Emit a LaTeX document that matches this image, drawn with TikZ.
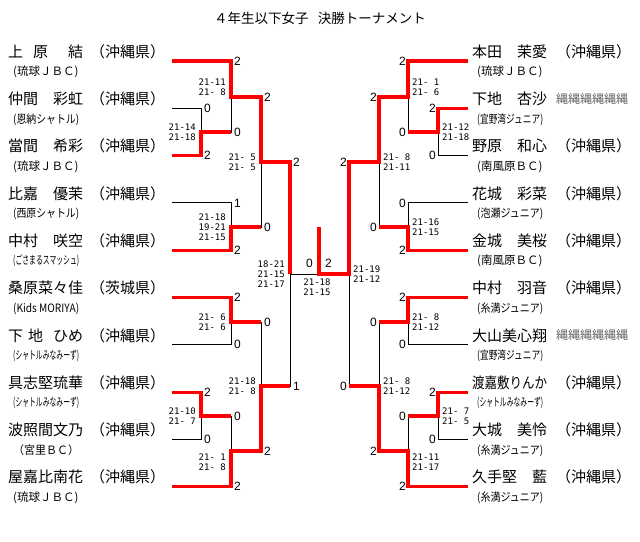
\documentclass[tikz,border=0pt]{standalone}
\usepackage{fontspec}
\usepackage{graphicx}
\setmainfont{Noto Sans CJK JP}
\newfontfamily\scorefont{DejaVu Sans Mono}
\newfontfamily\digitfont{Liberation Sans}
\usetikzlibrary{positioning}

\newsavebox\fitbox
\newcommand\fitname[1]{\sbox\fitbox{#1}\ifdim\wd\fitbox>75pt \resizebox{75pt}{\ht\fitbox}{\usebox\fitbox}\else\makebox[75pt][s]{#1}\fi}
\newcommand\fitclub[1]{\sbox\fitbox{#1}\ifdim\wd\fitbox>66pt \resizebox{66pt}{\ht\fitbox}{\usebox\fitbox}\else\usebox\fitbox\fi}
\newcommand\smudge{{\color{black!60}\fontsize{12}{14}\selectfont 縄縄縄縄縄縄}}

\tikzset{
	win/.style={red, line width=3.2pt},
	lose/.style={black, line width=1pt},
	player/.style={anchor=west, inner sep=0pt, font=\fontsize{15}{18}\selectfont},
	club/.style={anchor=west, inner sep=0pt, font=\fontsize{11.5}{13}\selectfont},
	games/.style={inner sep=1pt, align=center, font=\scorefont\fontsize{9}{10}\selectfont},
	pts/.style={inner sep=1pt, font=\digitfont\fontsize{12}{14}\selectfont},
}

\begin{document}
\begin{tikzpicture}[x=1pt, y=-1pt]
		\useasboundingbox (0,0) rectangle (640,541);
		\node[font=\fontsize{13.5}{16}\selectfont] (title) at (320,18) {４年生以下女子\hspace{0.7em}決勝トーナメント};

		\foreach \i/\pn/\pc/\pp in {1/上\hfil 原\hfil\hfil 結/(琉球ＪＢＣ)/（沖縄県）,
				2/仲間\hfil 彩虹/(恩納シャトル)/（沖縄県）,
				3/當間\hfil 希彩/(琉球ＪＢＣ)/（沖縄県）,
				4/比嘉\hfil 優茉/(西原シャトル)/（沖縄県）,
				5/中村\hfil 咲空/(ごさまるスマッシュ)/（沖縄県）,
				6/桑原\hfil 菜々佳/(Kids MORIYA)/（茨城県）,
				7/下\hfil 地\hfil\hfil ひめ/(シャトルみなみーず)/（沖縄県）,
				8/具志堅\hfil 琉華/(シャトルみなみーず)/（沖縄県）,
				9/波照間\hfil 文乃/（宮里ＢＣ）/（沖縄県）,
				10/屋嘉比\hfil 南花/(琉球ＪＢＣ)/（沖縄県）} {
			\coordinate (lp\i) at (172, {61+47.3*(\i-1)});
			\node[player] (ln\i) at (8, {51.5+47.3*(\i-1)}) {\fitname{\pn}};
			\node[player] (lf\i) at (90, {51.5+47.3*(\i-1)}) {\pp};
			\node[club] (lc\i) at (13, {72+47.3*(\i-1)}) {\fitclub{\pc}};
		}
		\foreach \i/\pn/\pc/\pp in {1/本田\hfil 茉愛/(琉球ＪＢＣ)/（沖縄県）,
				2/下地\hfil 杏沙/(宜野湾ジュニア)/\smudge,
				3/野原\hfil 和心/(南風原ＢＣ)/（沖縄県）,
				4/花城\hfil 彩菜/(泡瀬ジュニア)/（沖縄県）,
				5/金城\hfil 美桜/(南風原ＢＣ)/（沖縄県）,
				6/中村\hfil 羽音/(糸満ジュニア)/（沖縄県）,
				7/大山\hfil 美心翔/(宜野湾ジュニア)/\smudge,
				8/渡嘉敷\hfil りんか/(シャトルみなみーず)/（沖縄県）,
				9/大城\hfil 美怜/(糸満ジュニア)/（沖縄県）,
				10/久手堅\hfil 藍/(糸満ジュニア)/（沖縄県）} {
			\coordinate (rp\i) at (468, {61+47.3*(\i-1)});
			\node[player] (rn\i) at (472, {51.5+47.3*(\i-1)}) {\fitname{\pn}};
			\node[player] (rf\i) at (556, {51.5+47.3*(\i-1)}) {\pp};
			\node[club] (rc\i) at (477, {72+47.3*(\i-1)}) {\fitclub{\pc}};
		}

		\coordinate (lA) at (201,132);
		\coordinate (lB) at (231,97);
		\coordinate (lC) at (231,227);
		\coordinate (lD) at (261,162);
		\coordinate (lE) at (231,322);
		\coordinate (lF) at (201,416);
		\coordinate (lG) at (231,451);
		\coordinate (lH) at (261,386);
		\coordinate (lS) at (290,274);
		\coordinate (fin) at (319,274);
		\coordinate (champ) at (319,227);
		\coordinate (rS) at (349,274);
		\coordinate (rA) at (438,132);
		\coordinate (rB) at (408,97);
		\coordinate (rC) at (408,227);
		\coordinate (rD) at (379,162);
		\coordinate (rE) at (408,322);
		\coordinate (rF) at (438,416);
		\coordinate (rG) at (408,451);
		\coordinate (rH) at (379,386);

		\foreach \a/\b in {lp2/lA, lp3/lA, lp1/lB, lA/lB, lp4/lC, lp5/lC, lB/lD, lC/lD,
				lp6/lE, lp7/lE, lp8/lF, lp9/lF, lF/lG, lp10/lG, lE/lH, lG/lH, lD/lS, lH/lS,
				lS/fin, rS/fin,
				rp2/rA, rp3/rA, rp1/rB, rA/rB, rp4/rC, rp5/rC, rB/rD, rC/rD,
				rp6/rE, rp7/rE, rp8/rF, rp9/rF, rF/rG, rp10/rG, rE/rH, rG/rH, rD/rS, rH/rS}
			\draw[lose] (\a) -| (\b);

		\draw[win] (lp1) -| (lB) -| (lD) -| (lS);
		\draw[win] (lp3) -| (lA) -- (lA -| lB);
		\draw[win] (lp5) -| (lC) -- (lC -| lD);
		\draw[win] (lp6) -| (lE) -- (lE -| lH);
		\draw[win] (lp8) -| (lF) -- (lF -| lG);
		\draw[win] (lp10) -| (lG) -| (lH) -- (lH -| lS);
		\draw[win] (rp1) -| (rB) -| (rD) -| (rS) -- (fin) -- (champ);
		\draw[win] (rp2) -| (rA) -- (rA -| rB);
		\draw[win] (rp5) -| (rC) -- (rC -| rD);
		\draw[win] (rp6) -| (rE) -- (rE -| rH);
		\draw[win] (rp8) -| (rF) -- (rF -| rG);
		\draw[win] (rp10) -| (rG) -| (rH) -- (rH -| rS);

		\foreach \a/\b/\s in {lp2/lA/0, lp3/lA/2, lp1/lB/2, lA/lB/0, lp4/lC/1, lp5/lC/2,
				lB/lD/2, lC/lD/0, lp6/lE/2, lp7/lE/0, lp8/lF/2, lp9/lF/0, lF/lG/0, lp10/lG/2,
				lE/lH/0, lG/lH/2, lD/lS/2, lH/lS/1}
			\node[pts, anchor=west, xshift=2pt] (s\a) at (\a -| \b) {\s};
		\foreach \a/\b/\s in {rp2/rA/2, rp3/rA/0, rp1/rB/2, rA/rB/0, rp4/rC/0, rp5/rC/2,
				rB/rD/2, rC/rD/0, rp6/rE/2, rp7/rE/0, rp8/rF/2, rp9/rF/0, rF/rG/0, rp10/rG/2,
				rE/rH/0, rG/rH/2, rD/rS/2, rH/rS/0}
			\node[pts, anchor=east, xshift=-1pt] (s\a) at (\a -| \b) {\s};
		\node[pts, anchor=east] (sfinl) at ([xshift=-5pt, yshift=11pt]fin) {0};
		\node[pts, anchor=west] (sfinr) at ([xshift=5pt, yshift=11pt]fin) {2};

		\foreach \m/\t/\dy in {lA/{21-14\\21-18}/0, lB/{21-11\\21- 8}/10, lC/{21-18\\19-21\\21-15}/0,
				lD/{21- 5\\21- 5}/0, lE/{21- 6\\21- 6}/0, lF/{21-10\\21- 7}/0,
				lG/{21- 1\\21- 8}/-11, lH/{21-18\\21- 8}/0, lS/{18-21\\21-15\\21-17}/0}
			\node[games, left=4pt of \m, yshift=\dy pt] (g\m) {\t};
		\foreach \m/\t/\dy in {rA/{21-12\\21-18}/0, rB/{21- 1\\21- 6}/10, rC/{21-16\\21-15}/0,
				rD/{21- 8\\21-11}/0, rE/{21- 8\\21-12}/0, rF/{21- 7\\21- 5}/0,
				rG/{21-11\\21-17}/-11, rH/{21- 8\\21-12}/0, rS/{21-19\\21-12}/0}
			\node[games, right=3pt of \m, yshift=\dy pt] (g\m) {\t};
		\node[games, below=4pt of fin, xshift=-2pt] (gfin) {21-18\\21-15};
	\end{tikzpicture}
\end{document}
